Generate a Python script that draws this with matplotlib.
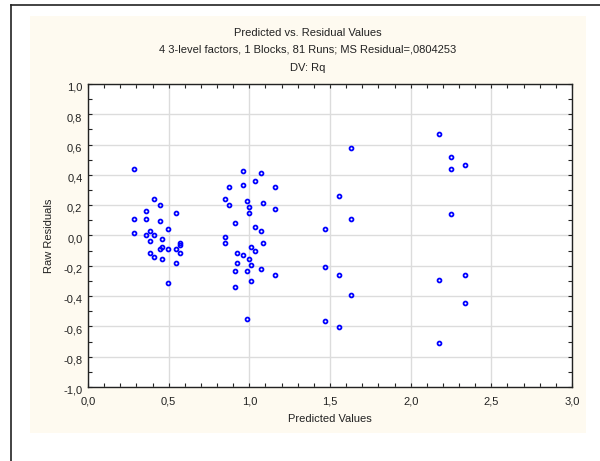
import matplotlib
matplotlib.use("Agg")
import matplotlib.pyplot as plt
from matplotlib.ticker import MultipleLocator, FuncFormatter
from matplotlib.patches import Rectangle
from matplotlib.lines import Line2D
from matplotlib.transforms import ScaledTranslation

plt.rcParams['font.family'] = ['Liberation Sans', 'DejaVu Sans']

title_lines = ["Predicted vs. Residual Values",
               "4 3-level factors, 1 Blocks, 81 Runs; MS Residual=,0804253",
               "DV: Rq"]
x_label = "Predicted Values"
y_label = "Raw Residuals"

predicted = [0.283, 0.283, 0.283, 0.358, 0.358, 0.358, 0.382, 0.382, 0.382,
             0.407, 0.407, 0.407, 0.444, 0.444, 0.444, 0.457, 0.457, 0.457,
             0.494, 0.494, 0.494, 0.544, 0.544, 0.544, 0.568, 0.568, 0.568,
             0.851, 0.851, 0.851, 0.876, 0.876, 0.913, 0.913, 0.913, 0.926, 0.926,
             0.963, 0.963, 0.963, 0.988, 0.988, 0.988, 1.000, 1.000, 1.000,
             1.013, 1.013, 1.013, 1.037, 1.037, 1.037, 1.075, 1.075, 1.075,
             1.087, 1.087, 1.161, 1.161, 1.161,
             1.469, 1.469, 1.469, 1.556, 1.556, 1.556, 1.630, 1.630, 1.630,
             2.174, 2.174, 2.174, 2.248, 2.248, 2.248, 2.335, 2.335, 2.335]
residuals = [0.437, 0.107, 0.015, 0.160, 0.107, 0.001, 0.028, -0.038, -0.118,
             0.239, 0.001, -0.144, 0.199, 0.094, -0.091, -0.025, -0.078, -0.157,
             0.041, -0.091, -0.316, 0.146, -0.091, -0.184, -0.052, -0.065, -0.118,
             0.239, -0.012, -0.052, 0.318, 0.199, 0.081, -0.236, -0.342, -0.118, -0.184,
             0.424, 0.331, -0.131, 0.226, -0.236, -0.553, 0.186, 0.146, -0.157,
             -0.078, -0.197, -0.302, 0.358, 0.054, -0.104, 0.411, 0.028, -0.223,
             0.213, -0.052, 0.318, 0.173, -0.263,
             0.041, -0.210, -0.566, 0.263, -0.263, -0.606, 0.580, 0.107, -0.395,
             0.672, -0.292, -0.712, 0.516, 0.437, 0.144, 0.463, -0.263, -0.448]

FS = 8
fig = plt.figure(figsize=(6.0, 4.61), dpi=100)
fig.patch.set_facecolor('white')

# cream panel
fig.patches.append(Rectangle((0.05, 0.0607), 0.9267, 0.9046, transform=fig.transFigure,
                             facecolor='#fefaf0', edgecolor='none', zorder=-10))
# outer border lines (left and top)
fig.lines.append(Line2D([11/600, 11/600], [0, 1 - 5.5/461], transform=fig.transFigure,
                        color='#222222', lw=1.2, zorder=-5))
fig.lines.append(Line2D([11/600, 1], [1 - 5.5/461, 1 - 5.5/461], transform=fig.transFigure,
                        color='#222222', lw=1.2, zorder=-5))

ax = fig.add_axes([88/600, 1 - 387/461, (572 - 88)/600, (387 - 84)/461])
ax.set_facecolor('white')
ax.set_xlim(0, 3.0)
ax.set_ylim(-1.0, 1.0)

ax.xaxis.set_major_locator(MultipleLocator(0.5))
ax.xaxis.set_minor_locator(MultipleLocator(0.1))
ax.yaxis.set_major_locator(MultipleLocator(0.2))
ax.yaxis.set_minor_locator(MultipleLocator(0.1))
fmt = FuncFormatter(lambda v, p: f"{v:.1f}".replace('.', ',').replace('-0,0', '0,0'))
ax.xaxis.set_major_formatter(fmt)
ax.yaxis.set_major_formatter(fmt)

ax.grid(True, which='major', color='#dcdcdc', lw=1.0)
ax.set_axisbelow(True)
ax.tick_params(which='both', direction='in', top=True, right=True, color='#222222',
               labelsize=FS, labelcolor='#222222')
ax.tick_params(which='major', length=3, width=0.8)
ax.tick_params(which='minor', length=3, width=0.8)
ax.tick_params(axis='x', which='major', pad=6.5)
ax.tick_params(axis='y', which='major', pad=4.0)
for s in ax.spines.values():
    s.set_color('#222222')
    s.set_linewidth(1.0)

ax.plot(predicted, residuals, linestyle='none', marker='o', markersize=2.8,
        markerfacecolor='none', markeredgecolor='#0000ff', markeredgewidth=1.3, zorder=3)

ax.set_xlabel(x_label, fontsize=FS, color='#222222', labelpad=6)
ax.set_ylabel(y_label, fontsize=FS, color='#222222', labelpad=7)

fig.canvas.draw()
off = ScaledTranslation(0, -2/72, fig.dpi_scale_trans)
for lbl in ax.get_yticklabels():
    lbl.set_transform(lbl.get_transform() + off)

cx = 308 / 600
for yy, t in zip([32.5, 49.0, 67.5], title_lines):
    fig.text(cx, 1 - yy / 461, t, ha='center', va='center', fontsize=FS, color='#222222')

fig.savefig('out.png', dpi=100, facecolor=fig.get_facecolor())
